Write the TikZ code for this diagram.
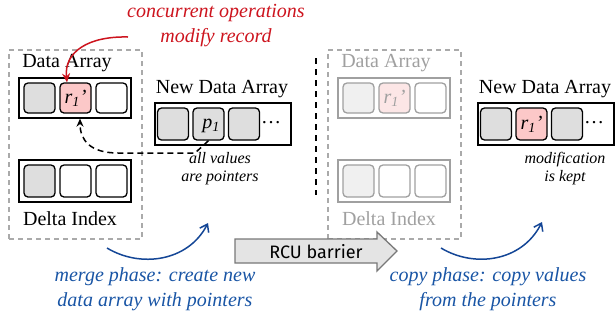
\documentclass[tikz,border=0pt]{standalone}
\usepackage{fontspec}
\setmainfont{Liberation Serif}
\newfontfamily\rcufont{Fira Sans}
\usetikzlibrary{arrows.meta}
\definecolor{cellgray}{RGB}{222,222,222}
\definecolor{cellpink}{RGB}{252,200,200}
\definecolor{fadegray}{RGB}{240,240,240}
\definecolor{fadepink}{RGB}{252,230,230}
\definecolor{fadeline}{RGB}{160,160,160}
\definecolor{boxdash}{RGB}{170,170,170}
\definecolor{opred}{RGB}{205,20,30}
\definecolor{phaseblue}{RGB}{25,85,165}
\definecolor{arrowblue}{RGB}{20,70,150}
\definecolor{rcufill}{RGB}{228,228,228}
\definecolor{rculine}{RGB}{120,120,120}
\newcommand\bigtext{\fontsize{20}{25}\selectfont}
\newcommand\smalltext{\fontsize{16}{18}\selectfont}
\newcommand\rone{{\itshape r\textsubscript{\itshape 1}'}}
\newcommand\pone{{\itshape p\textsubscript{\itshape 1}}}
\begin{document}
\begin{tikzpicture}[x=1pt,y=-1pt,
  arraybox/.style={draw, line width=1.6pt, inner sep=0, minimum width=112pt, minimum height=40pt},
  cellbox/.style={draw, line width=1.3pt, rounded corners=4pt, inner sep=0,
    minimum width=31pt, minimum height=30pt, fill=cellgray},
  fadearray/.style={arraybox, draw=fadeline},
  fadecell/.style={cellbox, draw=fadeline, fill=fadegray},
  groupbox/.style={draw=boxdash, line width=1.3pt, dash pattern=on 5pt off 4pt,
    minimum width=133pt, minimum height=189pt, inner sep=0},
  label/.style={font=\bigtext, inner sep=0},
  note/.style={font=\smalltext\itshape, align=center, inner sep=0},
  phase/.style={font=\bigtext\itshape, align=center, inner sep=0, text=phaseblue},
  phasearrow/.style={draw=arrowblue, line width=1.5pt, -{Straight Barb[length=7pt,width=10pt]}},
]
\useasboundingbox (0,0) rectangle (616,322);

% ---- merge phase: old structures ----
\node[groupbox] (gbox) at (75.5,144.5) {};
\node[label] (dlab) at (67,63) {Data Array};
\node[arraybox] (darr) at (75,98) {};
\node[cellbox] (dc1) at (39.5,98) {};
\node[cellbox, fill=cellpink, font=\bigtext] (dc2) at (75.5,98) {\rone};
\node[cellbox, fill=white] (dc3) at (111.5,98) {};

\node[arraybox, minimum height=42pt] (xarr) at (75,181) {};
\node[cellbox, minimum height=32pt] (xc1) at (39.5,181) {};
\node[cellbox, minimum height=32pt, fill=white] (xc2) at (75.5,181) {};
\node[cellbox, minimum height=32pt, fill=white] (xc3) at (111.5,181) {};
\node[label] (xlab) at (70,219) {Delta Index};

% ---- merge phase: new array of pointers ----
\node[label] (nlab) at (222,89) {New Data Array};
\node[arraybox, minimum width=136pt, minimum height=42pt] (narr) at (223,124) {};
\node[cellbox, minimum height=32pt] (nc1) at (173,124) {};
\node[cellbox, minimum height=32pt] (nc2) at (208.5,124) {};
\node[cellbox, minimum height=32pt] (nc3) at (244,124) {};
\node[font=\bigtext, inner sep=0] (pone) at (211,126) {\pone};
\node[font=\bigtext, inner sep=0, anchor=base] (ndots) at (271,123) {\dots};
\node[note] (nnote) at (220,169) {all values\\are pointers};

% pointer back to the modified record
\draw[line width=1.5pt, dash pattern=on 6pt off 4pt, -{Stealth[length=8pt,width=7pt]}]
  (nc2.south) -- (195,153) -- (118,153)
  .. controls (90,153) and (80,140) .. ([shift={(4.5,5)}]dc2.south);

% concurrent modification
\node[font=\bigtext\itshape, text=opred, align=center, inner sep=0] (conc) at (216,26)
  {concurrent operations\\modify record};
\coordinate (redstart) at (128,37);
\draw[opred, line width=1.5pt, -{Stealth[length=9pt,width=8pt]}]
  (redstart) .. controls (88,36) and (64,52) .. ([xshift=-8.5pt]dc2.north);

% phase separator
\coordinate (vtop) at (316,58);
\coordinate (vbot) at (316,195);
\draw[line width=1.5pt, dash pattern=on 6pt off 5pt] (vtop) -- (vbot);

% ---- copy phase: faded old structures ----
\node[groupbox] (fbox) at (394.5,144.5) {};
\node[label, text=fadeline] (fdlab) at (386,63) {Data Array};
\node[fadearray] (fdarr) at (394,98) {};
\node[fadecell] (fdc1) at (358.5,98) {};
\node[fadecell, fill=fadepink, text=fadeline, font=\bigtext] (fdc2) at (394.5,98) {\rone};
\node[fadecell, fill=white] (fdc3) at (430.5,98) {};

\node[fadearray, minimum height=42pt] (fxarr) at (394,181) {};
\node[fadecell, minimum height=32pt] (fxc1) at (358.5,181) {};
\node[fadecell, minimum height=32pt, fill=white] (fxc2) at (394.5,181) {};
\node[fadecell, minimum height=32pt, fill=white] (fxc3) at (430.5,181) {};
\node[label, text=fadeline] (fxlab) at (389,219) {Delta Index};

% ---- copy phase: new array with values ----
\node[label] (mlab) at (545,89) {New Data Array};
\node[arraybox, minimum width=136pt, minimum height=42pt] (marr) at (546,124) {};
\node[cellbox, minimum height=32pt] (mc1) at (496,124) {};
\node[cellbox, minimum height=32pt, fill=cellpink, font=\bigtext] (mc2) at (531.5,124) {\rone};
\node[cellbox, minimum height=32pt] (mc3) at (567,124) {};
\node[font=\bigtext, inner sep=0, anchor=base] (mdots) at (594,123) {\dots};
\node[note] (mnote) at (565,169) {modification\\is kept};

% ---- RCU barrier ----
\coordinate (rcutail) at (235,251);
\coordinate (rcutip) at (397,251);
\draw[draw=rculine, fill=rcufill, line width=1.3pt]
  ([shift={(0,-12)}]rcutail) -- ++(142,0) -- ++(0,-7) -- (rcutip)
  -- ++(-20,20) -- ++(0,-8) -- ([shift={(0,12)}]rcutail) -- cycle;
\node[font=\rcufont\fontsize{18}{20}\selectfont, inner sep=0] (rcu) at (316,252) {RCU barrier};

% ---- phase captions ----
\coordinate (mstart) at (107,248);
\coordinate (mend) at (208,223);
\draw[phasearrow] (mstart) .. controls (140,268) and (188,262) .. (mend);
\node[phase] (mcap) at (155,289) {merge phase: create new\\data array with pointers};

\coordinate (cstart) at (441,248);
\coordinate (cend) at (542,222);
\draw[phasearrow] (cstart) .. controls (474,268) and (522,262) .. (cend);
\node[phase] (ccap) at (488,289) {copy phase: copy values\\from the pointers};
\end{tikzpicture}
\end{document}
